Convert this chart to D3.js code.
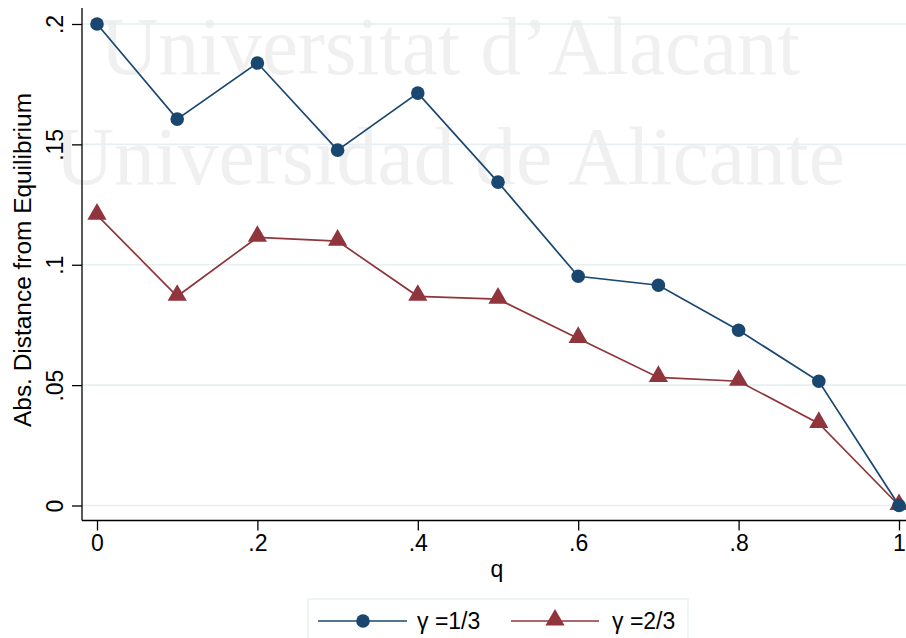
<!DOCTYPE html>
<html>
<head>
<meta charset="utf-8">
<script src="https://cdn.jsdelivr.net/npm/d3@7"></script>
<style>
  html, body { margin: 0; padding: 0; background: #fff; }
  svg { display: block; }
</style>
</head>
<body>
<svg id="chart" width="906" height="638"></svg>
<script>
// q grid and absolute distance from equilibrium for each gamma
const qValues = [0, 0.1, 0.2, 0.3, 0.4, 0.5, 0.6, 0.7, 0.8, 0.9, 1];
const gammaOneThird = [0.200, 0.1605, 0.1838, 0.1476, 0.1713, 0.1343, 0.0952, 0.0915, 0.0728, 0.0516, 0.0];
const gammaTwoThirds = [0.1206, 0.0869, 0.1114, 0.1098, 0.0869, 0.0857, 0.0694, 0.0532, 0.0516, 0.0341, 0.0];
const seriesNames = ["\u03B3 =1/3", "\u03B3 =2/3"];
const xTicks = [0, 0.2, 0.4, 0.6, 0.8, 1];
const yTicks = [0, 0.05, 0.1, 0.15, 0.2];
const watermarkLines = ["Universitat d\u2019Alacant", "Universidad de Alicante"];

const fmt = v => v === 0 ? "0" : (v === 1 ? "1" : String(+v.toFixed(2)).replace(/^0\./, "."));

const svg = d3.select("#chart");
const font = "'Liberation Sans', Arial, Helvetica, sans-serif";
const blue = "#1a476f", red = "#90353b", grid = "#e6eff1";

const x = d3.scaleLinear().domain([0, 1]).range([97, 899]);
const y = d3.scaleLinear().domain([0, 0.2]).range([505.5, 24]);
const axisLeft = 82, axisBottom = 520.5;

// watermark
const wm = svg.append("g").attr("font-family", "'Liberation Serif', 'Times New Roman', serif")
  .attr("fill", "#f0f0f0").attr("font-size", 82);
wm.append("text").attr("x", 100).attr("y", 74).attr("textLength", 700)
  .attr("lengthAdjust", "spacingAndGlyphs").text(watermarkLines[0]);
wm.append("text").attr("x", 55).attr("y", 184).attr("textLength", 790)
  .attr("lengthAdjust", "spacingAndGlyphs").text(watermarkLines[1]);

// gridlines
svg.append("g").selectAll("line").data(yTicks).join("line")
  .attr("x1", axisLeft).attr("x2", 906)
  .attr("y1", d => y(d)).attr("y2", d => y(d))
  .attr("stroke", grid).attr("stroke-width", 1.6);

// y axis, labels rotated as in the source style
const yAxis = svg.append("g").attr("transform", `translate(${axisLeft},0)`)
  .call(d3.axisLeft(y).tickValues(yTicks).tickFormat(fmt).tickSize(10));
yAxis.select(".domain").attr("d", `M0,8V${axisBottom}`).attr("stroke", "#000").attr("stroke-width", 1.3);
yAxis.selectAll(".tick line").attr("stroke", "#000").attr("stroke-width", 1.3);
yAxis.selectAll(".tick text")
  .attr("font-family", font).attr("font-size", 23).attr("fill", "#000")
  .attr("x", 0).attr("y", 0).attr("dy", 0)
  .attr("text-anchor", "middle")
  .attr("transform", "translate(-19.5,0) rotate(-90)");

// x axis
const xAxis = svg.append("g").attr("transform", `translate(0,${axisBottom})`)
  .call(d3.axisBottom(x).tickValues(xTicks).tickFormat(fmt).tickSize(10).tickPadding(4));
xAxis.select(".domain").attr("d", `M${axisLeft},0H906`).attr("stroke", "#000").attr("stroke-width", 1.3);
xAxis.selectAll(".tick line").attr("stroke", "#000").attr("stroke-width", 1.3);
xAxis.selectAll(".tick text").attr("font-family", font).attr("font-size", 23).attr("fill", "#000");

// axis titles
svg.append("text").attr("x", 497).attr("y", 577).attr("text-anchor", "middle")
  .attr("font-family", font).attr("font-size", 23).text("q");
svg.append("text").attr("transform", "translate(31,260) rotate(-90)").attr("text-anchor", "middle")
  .attr("font-family", font).attr("font-size", 23).attr("textLength", 334)
  .attr("lengthAdjust", "spacingAndGlyphs").text("Abs. Distance from Equilibrium");

// series
const line = d3.line().x((d, i) => x(qValues[i])).y(d => y(d));
const tri = d3.symbol().type(d3.symbolTriangle).size(160);

svg.append("path").datum(gammaTwoThirds).attr("d", line)
  .attr("fill", "none").attr("stroke", red).attr("stroke-width", 1.7);
svg.append("path").datum(gammaOneThird).attr("d", line)
  .attr("fill", "none").attr("stroke", blue).attr("stroke-width", 1.7);

svg.append("g").selectAll("path").data(gammaTwoThirds).join("path")
  .attr("d", tri).attr("fill", red)
  .attr("transform", (d, i) => `translate(${x(qValues[i])},${y(d) - 1})`);
svg.append("g").selectAll("circle").data(gammaOneThird).join("circle")
  .attr("cx", (d, i) => x(qValues[i])).attr("cy", d => y(d)).attr("r", 6.8).attr("fill", blue);

// legend
const lg = svg.append("g");
lg.append("rect").attr("x", 308).attr("y", 599).attr("width", 380).attr("height", 50)
  .attr("fill", "#fff").attr("stroke", grid).attr("stroke-width", 1.3);
const ly = 621;
lg.append("line").attr("x1", 318).attr("x2", 407).attr("y1", ly).attr("y2", ly).attr("stroke", blue).attr("stroke-width", 1.7);
lg.append("circle").attr("cx", 363).attr("cy", ly).attr("r", 6.8).attr("fill", blue);
lg.append("text").attr("x", 417).attr("y", ly + 8).attr("font-family", font).attr("font-size", 23).text(seriesNames[0]);
lg.append("line").attr("x1", 511).attr("x2", 599).attr("y1", ly).attr("y2", ly).attr("stroke", red).attr("stroke-width", 1.7);
lg.append("path").attr("d", tri).attr("fill", red).attr("transform", `translate(555,${ly - 1})`);
lg.append("text").attr("x", 612).attr("y", ly + 8).attr("font-family", font).attr("font-size", 23).text(seriesNames[1]);
</script>
</body>
</html>
